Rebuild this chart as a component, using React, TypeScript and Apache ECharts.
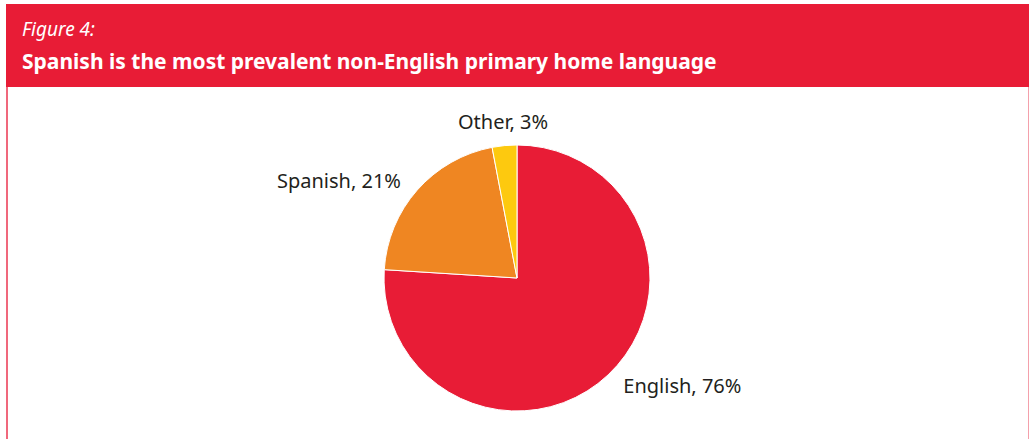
import React, { useEffect, useRef } from "react";
import * as echarts from "echarts";

const figureLabel = "Figure 4:";
const title = "Spanish is the most prevalent non-English primary home language";
const categories = ["English", "Spanish", "Other"];
const values = [76, 21, 3];
const colors = ["#e81c36", "#ef8622", "#fdc90f"];

export default function App() {
  const ref = useRef<HTMLDivElement>(null);
  useEffect(() => {
    if (!ref.current) return;
    const chart = echarts.init(ref.current, null, { renderer: "svg" });
    chart.setOption({
      animation: false,
      backgroundColor: "#ffffff",
      graphic: [
        { type: "rect", shape: { x: 6, y: 4, width: 1030, height: 83 }, style: { fill: "#e81c36" } },
        { type: "rect", shape: { x: 6, y: 87, width: 2, height: 360 }, style: { fill: "#f0687c" } },
        { type: "rect", shape: { x: 1028, y: 87, width: 1, height: 360 }, style: { fill: "#f4a0ab" } },
        {
          type: "text",
          x: 22,
          y: 29,
          style: {
            text: figureLabel,
            fill: "#ffffff",
            fontFamily: "Noto Sans",
            fontStyle: "italic",
            fontSize: 19,
            verticalAlign: "middle",
          },
        },
        {
          type: "text",
          x: 22,
          y: 61,
          style: {
            text: title,
            fill: "#ffffff",
            fontFamily: "Noto Sans",
            fontWeight: "bold",
            fontSize: 21,
            verticalAlign: "middle",
          },
        },
      ],
      series: [
        {
          type: "pie",
          center: [517, 278],
          radius: 133,
          startAngle: 90,
          clockwise: true,
          itemStyle: { borderColor: "#ffffff", borderWidth: 1 },
          label: {
            show: true,
            position: "outside",
            formatter: "{b}, {c}%",
            fontFamily: "Noto Sans",
            fontSize: 20,
            color: "#231f20",
          },
          labelLine: { show: false, length: 15, length2: 0 },
          labelLayout: (params: any) =>
            params.dataIndex === 2 ? { align: "center", dx: 5, dy: -9 } : {},
          emphasis: { disabled: true },
          data: categories.map((name, i) => ({
            name,
            value: values[i],
            itemStyle: { color: colors[i] },
          })),
        },
      ],
    });
    return () => chart.dispose();
  }, []);
  return (
    <div
      ref={ref}
      style={{ position: "absolute", left: 0, top: 0, width: 1029, height: 439 }}
    />
  );
}
